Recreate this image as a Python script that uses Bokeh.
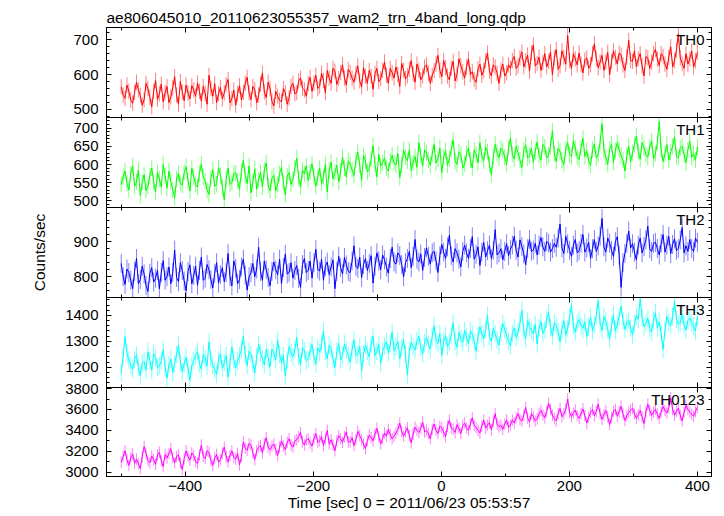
from bokeh.plotting import figure
from bokeh.layouts import column
from bokeh.models import Range1d, LinearAxis, SingleIntervalTicker, Label, ColumnDataSource
from bokeh.embed import file_html
from bokeh.resources import INLINE

FONT = "Liberation Sans"

title_text = "ae806045010_20110623055357_wam2_trn_4band_long.qdp"
x_title = "Time [sec] 0 = 2011/06/23 05:53:57"
y_title = "Counts/sec"

t_first, t_last = -500, 400
x_limits = (-523, 422)

names = ["TH0", "TH1", "TH2", "TH3", "TH0123"]

th0 = [565, 541, 532, 570, 552, 527, 518, 549, 578, 556, 540, 512, 528, 575, 560, 534, 508, 552, 583, 529,
       545, 573, 522, 548, 566, 520, 536, 562, 594, 541, 515, 580, 550, 525, 570, 547, 530, 568, 556, 538,
       576, 552, 524, 566, 546, 515, 598, 560, 538, 574, 520, 545, 563, 530, 548, 571, 586, 519, 531, 556,
       512, 545, 568, 527, 549, 575, 592, 548, 528, 566, 557, 519, 541, 572, 604, 550, 534, 578, 561, 523,
       510, 552, 538, 526, 522, 560, 548, 515, 533, 566, 575, 545, 548, 582, 590, 561, 556, 538, 574, 592,
       552, 576, 598, 560, 566, 604, 583, 548, 612, 590, 575, 618, 610, 572, 588, 606, 628, 590, 570, 615,
       606, 590, 578, 604, 625, 582, 565, 620, 596, 575, 612, 595, 558, 603, 618, 580, 588, 612, 636, 598,
       575, 618, 605, 590, 622, 600, 566, 632, 612, 588, 596, 615, 640, 602, 578, 630, 612, 585, 596, 622,
       628, 604, 575, 598, 612, 630, 655, 612, 594, 640, 620, 596, 585, 618, 638, 582, 600, 645, 626, 608,
       590, 622, 645, 600, 608, 586, 578, 616, 630, 598, 612, 640, 662, 610, 596, 628, 622, 604, 575, 612,
       630, 596, 605, 628, 618, 640, 652, 618, 625, 648, 665, 622, 640, 656, 610, 662, 685, 625, 632, 650,
       612, 635, 660, 622, 638, 665, 600, 648, 672, 615, 625, 668, 650, 630, 712, 640, 618, 660, 645, 628,
       662, 630, 605, 642, 648, 618, 628, 660, 688, 645, 620, 636, 655, 612, 636, 664, 600, 638, 668, 650,
       630, 662, 656, 628, 612, 650, 698, 640, 638, 668, 622, 645, 660, 625, 596, 652, 648, 618, 635, 660,
       672, 645, 626, 660, 652, 630, 615, 650, 680, 622, 640, 670, 716, 648, 632, 618, 660, 630, 645, 668,
       622, 640, 664]

th1 = [545, 566, 582, 548, 530, 575, 596, 540, 552, 585, 515, 550, 572, 528, 540, 568, 590, 552, 524, 578,
       560, 538, 600, 570, 535, 582, 553, 530, 508, 560, 576, 548, 544, 578, 594, 556, 527, 590, 566, 545,
       538, 575, 602, 565, 555, 530, 518, 562, 586, 540, 547, 592, 570, 538, 503, 560, 590, 545, 551, 575,
       577, 556, 532, 580, 612, 570, 548, 596, 522, 552, 588, 532, 558, 578, 538, 585, 604, 542, 528, 562,
       570, 528, 545, 575, 592, 550, 517, 568, 578, 545, 560, 590, 618, 562, 538, 585, 574, 596, 556, 580,
       602, 570, 540, 565, 590, 548, 566, 600, 524, 585, 606, 560, 578, 598, 552, 582, 620, 590, 566, 610,
       600, 585, 570, 612, 635, 598, 556, 625, 610, 580, 588, 615, 652, 600, 566, 628, 596, 605, 618, 590,
       582, 610, 625, 604, 598, 630, 564, 598, 640, 620, 610, 640, 584, 605, 622, 592, 660, 625, 596, 640,
       632, 612, 598, 628, 655, 604, 615, 645, 578, 620, 638, 598, 616, 642, 668, 610, 600, 635, 628, 590,
       602, 630, 645, 612, 590, 640, 628, 605, 660, 625, 610, 648, 635, 600, 572, 620, 655, 632, 618, 645,
       638, 620, 600, 645, 672, 628, 615, 650, 632, 612, 592, 640, 654, 618, 625, 645, 606, 635, 662, 625,
       612, 655, 648, 618, 626, 650, 692, 630, 608, 645, 636, 612, 600, 642, 660, 628, 622, 665, 644, 620,
       614, 645, 672, 622, 638, 610, 598, 640, 656, 618, 628, 662, 712, 640, 620, 600, 642, 655, 606, 638,
       660, 640, 624, 612, 582, 625, 650, 608, 632, 655, 678, 636, 614, 660, 645, 628, 620, 648, 665, 615,
       630, 660, 718, 640, 608, 630, 655, 612, 634, 650, 676, 622, 618, 645, 650, 628, 605, 640, 664, 620,
       630, 612, 648]

th2 = [838, 800, 778, 822, 812, 790, 766, 815, 852, 780, 792, 830, 808, 775, 758, 810, 826, 785, 796, 818,
       766, 812, 846, 790, 800, 828, 780, 812, 876, 798, 786, 840, 818, 788, 760, 815, 834, 780, 804, 830,
       776, 818, 856, 790, 796, 835, 820, 792, 768, 810, 840, 782, 806, 826, 786, 812, 866, 800, 774, 845,
       824, 780, 792, 828, 850, 805, 762, 800, 812, 838, 800, 822, 884, 815, 790, 845, 820, 798, 774, 815,
       842, 820, 806, 850, 780, 826, 864, 808, 812, 840, 796, 818, 832, 795, 770, 835, 852, 812, 818, 845,
       796, 840, 878, 822, 816, 850, 790, 830, 842, 806, 828, 848, 766, 815, 858, 826, 808, 855, 834, 815,
       812, 845, 888, 830, 824, 856, 798, 835, 852, 818, 838, 860, 782, 830, 868, 845, 820, 862, 848, 828,
       810, 852, 884, 842, 836, 868, 860, 835, 800, 840, 852, 872, 826, 858, 906, 850, 842, 865, 818, 855,
       882, 858, 836, 868, 872, 845, 812, 860, 892, 870, 852, 885, 918, 860, 842, 880, 868, 850, 828, 872,
       890, 868, 852, 880, 914, 850, 864, 885, 832, 870, 898, 856, 874, 890, 852, 875, 934, 862, 868, 880,
       848, 872, 894, 860, 878, 890, 915, 875, 856, 905, 886, 865, 834, 880, 906, 872, 876, 895, 862, 890,
       912, 885, 872, 900, 896, 870, 880, 895, 884, 910, 950, 882, 866, 915, 894, 875, 858, 890, 906, 868,
       874, 895, 920, 870, 882, 898, 852, 880, 906, 872, 888, 915, 966, 885, 870, 910, 896, 875, 858, 900,
       914, 860, 770, 840, 866, 895, 930, 882, 894, 870, 848, 890, 910, 868, 886, 905, 944, 880, 872, 895,
       898, 880, 862, 895, 920, 870, 890, 915, 866, 892, 908, 875, 880, 905, 940, 868, 888, 872, 906, 880,
       872, 910, 898]

th3 = [1178, 1240, 1318, 1255, 1228, 1205, 1192, 1230, 1248, 1200, 1168, 1215, 1222, 1190, 1260, 1225, 1188, 1252, 1238, 1200,
       1204, 1225, 1268, 1200, 1158, 1210, 1232, 1180, 1214, 1250, 1284, 1220, 1182, 1215, 1238, 1195, 1150, 1205, 1226, 1245,
       1260, 1215, 1192, 1250, 1234, 1205, 1298, 1232, 1208, 1190, 1172, 1228, 1252, 1195, 1218, 1245, 1162, 1215, 1278, 1230,
       1198, 1225, 1244, 1270, 1320, 1248, 1205, 1262, 1250, 1215, 1178, 1240, 1288, 1255, 1232, 1210, 1268, 1238, 1200, 1270,
       1255, 1228, 1305, 1250, 1218, 1245, 1165, 1228, 1280, 1255, 1240, 1268, 1315, 1240, 1210, 1275, 1264, 1225, 1232, 1262,
       1288, 1240, 1212, 1275, 1258, 1290, 1340, 1262, 1232, 1285, 1272, 1230, 1200, 1262, 1292, 1228, 1246, 1290, 1266, 1245,
       1220, 1268, 1306, 1245, 1250, 1280, 1186, 1250, 1286, 1262, 1240, 1290, 1320, 1245, 1262, 1288, 1215, 1262, 1282, 1300,
       1256, 1290, 1336, 1262, 1280, 1300, 1232, 1275, 1306, 1250, 1170, 1262, 1296, 1280, 1266, 1302, 1320, 1278, 1252, 1295,
       1316, 1288, 1270, 1318, 1360, 1305, 1292, 1330, 1246, 1300, 1322, 1280, 1296, 1325, 1372, 1300, 1276, 1335, 1312, 1296,
       1342, 1315, 1292, 1340, 1326, 1300, 1262, 1322, 1356, 1330, 1310, 1345, 1400, 1318, 1300, 1350, 1330, 1305, 1285, 1335,
       1368, 1345, 1322, 1300, 1282, 1330, 1352, 1315, 1336, 1372, 1420, 1340, 1310, 1380, 1356, 1340, 1330, 1365, 1290, 1352,
       1376, 1330, 1345, 1385, 1410, 1352, 1320, 1372, 1360, 1338, 1298, 1345, 1380, 1325, 1350, 1395, 1440, 1360, 1335, 1370,
       1384, 1360, 1350, 1375, 1318, 1355, 1394, 1340, 1364, 1400, 1458, 1368, 1342, 1395, 1378, 1345, 1308, 1360, 1402, 1340,
       1366, 1395, 1436, 1380, 1346, 1372, 1382, 1350, 1326, 1368, 1400, 1385, 1465, 1392, 1356, 1370, 1388, 1350, 1336, 1382,
       1410, 1352, 1376, 1330, 1268, 1345, 1396, 1372, 1360, 1395, 1454, 1385, 1366, 1372, 1404, 1365, 1344, 1380, 1390, 1372,
       1358, 1340, 1394]

th0123 = [3095, 3150, 3205, 3120, 3065, 3140, 3175, 3085, 3125, 3080, 3035, 3150, 3245, 3180, 3110, 3090, 3155, 3120, 3075, 3165,
          3190, 3110, 3055, 3170, 3135, 3180, 3225, 3140, 3090, 3150, 3165, 3090, 3025, 3130, 3205, 3150, 3115, 3185, 3160, 3100,
          3085, 3165, 3260, 3150, 3130, 3205, 3190, 3110, 3065, 3135, 3170, 3095, 3120, 3180, 3240, 3145, 3100, 3160, 3205, 3140,
          3125, 3180, 3070, 3150, 3290, 3230, 3210, 3275, 3260, 3185, 3120, 3205, 3240, 3255, 3185, 3270, 3330, 3240, 3215, 3250,
          3270, 3215, 3160, 3240, 3300, 3250, 3215, 3285, 3320, 3260, 3240, 3300, 3310, 3340, 3380, 3290, 3260, 3310, 3320, 3280,
          3250, 3320, 3370, 3285, 3300, 3340, 3255, 3320, 3400, 3270, 3310, 3260, 3205, 3300, 3350, 3320, 3285, 3340, 3385, 3290,
          3290, 3330, 3255, 3310, 3390, 3350, 3310, 3270, 3225, 3300, 3355, 3330, 3300, 3365, 3420, 3340, 3270, 3320, 3375, 3345,
          3410, 3360, 3320, 3345, 3375, 3410, 3470, 3390, 3345, 3385, 3425, 3350, 3280, 3365, 3430, 3400, 3380, 3420, 3480, 3385,
          3400, 3370, 3320, 3410, 3460, 3400, 3370, 3440, 3425, 3385, 3340, 3440, 3500, 3420, 3410, 3380, 3455, 3420, 3370, 3450,
          3470, 3420, 3400, 3460, 3520, 3445, 3430, 3400, 3375, 3440, 3500, 3420, 3450, 3475, 3405, 3480, 3560, 3460, 3435, 3450,
          3410, 3460, 3500, 3430, 3450, 3500, 3470, 3520, 3560, 3505, 3490, 3545, 3620, 3520, 3480, 3560, 3530, 3490, 3510, 3560,
          3590, 3550, 3520, 3580, 3660, 3600, 3545, 3510, 3490, 3560, 3610, 3530, 3560, 3600, 3700, 3570, 3530, 3565, 3595, 3540,
          3515, 3560, 3605, 3540, 3470, 3525, 3570, 3600, 3540, 3580, 3650, 3560, 3505, 3550, 3590, 3530, 3455, 3520, 3580, 3600,
          3535, 3580, 3630, 3555, 3495, 3540, 3570, 3595, 3610, 3560, 3515, 3550, 3590, 3530, 3465, 3575, 3650, 3590, 3545, 3575,
          3600, 3555, 3515, 3575, 3630, 3590, 3565, 3620, 3710, 3600, 3545, 3580, 3610, 3545, 3490, 3570, 3640, 3600, 3575, 3555,
          3535, 3580, 3620]

series = [th0, th1, th2, th3, th0123]
errors = [22, 22, 27, 34, 55]
y_limits = [(477, 735), (482, 729), (741, 997), (1122, 1469), (2959, 3810)]
y_major = [100, 50, 100, 100, 200]
y_minor = [5, 5, 5, 5, 2]
x_major, x_minor = 200, 2

colors = ["#ff0000", "#00ff00", "#0000ff", "#00ffff", "#ff00ff"]
err_colors = ["#ff8080", "#80ff80", "#8080ff", "#80ffff", "#ff80ff"]

W = 716
LEFT, RIGHT = 106, 5
TOP = 27
FRAME_H = [90, 90, 90, 90, 89]
BOTTOM = 39
OV = 10
TICK_FS = "15px"
LABEL_FS = "15.5px"


def style_axis(ax, labels):
    ax.major_tick_in = 5
    ax.major_tick_out = 0
    ax.minor_tick_in = 3
    ax.minor_tick_out = 0
    ax.axis_line_color = "black"
    ax.major_tick_line_color = "black"
    ax.minor_tick_line_color = "black"
    ax.axis_line_width = 1
    if labels:
        ax.major_label_text_font = FONT
        ax.major_label_text_font_size = TICK_FS
        ax.major_label_text_color = "black"
    else:
        ax.major_label_text_font_size = "0px"
        ax.major_label_standoff = 0
        ax.major_label_text_color = None


def style_axis_label(ax, text, standoff):
    ax.axis_label = text
    ax.axis_label_text_font = FONT
    ax.axis_label_text_font_size = LABEL_FS
    ax.axis_label_text_font_style = "normal"
    ax.axis_label_text_color = "black"
    ax.axis_label_standoff = standoff


figs = []
n = len(th0)
time = [t_first + (t_last - t_first) * i / (n - 1) for i in range(n)]
for k, (name, vals) in enumerate(zip(names, series)):
    first = k == 0
    last = k == len(names) - 1
    top = TOP if first else OV
    bottom = BOTTOM if last else OV
    h = FRAME_H[k] + top + bottom
    p = figure(width=W, height=h, output_backend="svg", toolbar_location=None,
               x_range=Range1d(*x_limits), y_range=Range1d(*y_limits[k]),
               x_axis_location=None, y_axis_location=None)
    p.min_border = 0
    p.min_border_left = LEFT
    p.min_border_right = RIGHT
    p.min_border_top = top
    p.min_border_bottom = bottom
    p.outline_line_color = "black"
    p.outline_line_width = 1
    p.grid.visible = False
    p.background_fill_color = "white"
    p.border_fill_alpha = 0
    if not first:
        p.margin = (-2 * OV, 0, 0, 0)

    yl = LinearAxis(ticker=SingleIntervalTicker(interval=y_major[k], num_minor_ticks=y_minor[k]))
    style_axis(yl, True)
    yl.major_label_standoff = 8
    if k == 2:
        style_axis_label(yl, y_title, 22)
    p.add_layout(yl, "left")
    yr = LinearAxis(ticker=SingleIntervalTicker(interval=y_major[k], num_minor_ticks=y_minor[k]))
    style_axis(yr, False)
    p.add_layout(yr, "right")

    xt = LinearAxis(ticker=SingleIntervalTicker(interval=x_major, num_minor_ticks=x_minor))
    style_axis(xt, False)
    p.add_layout(xt, "above")
    xb = LinearAxis(ticker=SingleIntervalTicker(interval=x_major, num_minor_ticks=x_minor))
    style_axis(xb, last)
    if last:
        xb.major_label_standoff = 4
        style_axis_label(xb, x_title, 0)
    p.add_layout(xb, "below")

    if first:
        p.title.text = title_text
        p.title.align = "left"
        p.title.text_font = FONT
        p.title.text_font_size = LABEL_FS
        p.title.text_font_style = "normal"
        p.title.text_color = "black"
        p.title.standoff = 3

    src = ColumnDataSource(dict(t=time, y=vals,
                                lo=[v - errors[k] for v in vals],
                                hi=[v + errors[k] for v in vals]))
    p.segment(x0="t", y0="lo", x1="t", y1="hi", source=src,
              line_color=err_colors[k], line_width=1)
    p.line(x="t", y="y", source=src, line_color=colors[k], line_width=1)

    p.add_layout(Label(x=x_limits[1], y=y_limits[k][1], x_offset=-7, y_offset=-3,
                       text=name, text_align="right", text_baseline="top",
                       text_font=FONT, text_font_size="15px", text_color="black"))
    figs.append(p)

layout = column(*figs, spacing=0)
open("out.html", "w").write(file_html(layout, INLINE))
